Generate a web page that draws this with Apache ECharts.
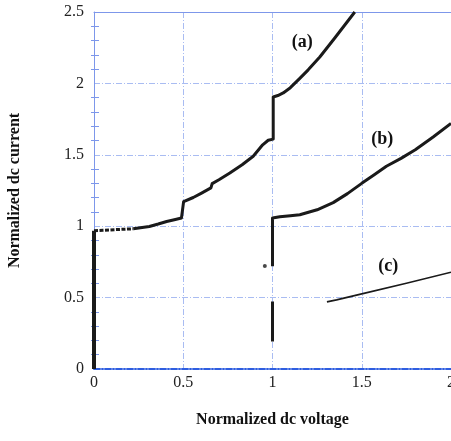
<!DOCTYPE html>
<html>
<head>
<meta charset="utf-8">
<script src="https://cdn.jsdelivr.net/npm/echarts@6/dist/echarts.min.js"></script>
<style>html,body{margin:0;padding:0;background:#fff}#c{width:451px;height:441px}</style>
</head>
<body>
<div id="c"></div>
<script>
// x tick values / y tick values
var xTicks = [0, 0.5, 1, 1.5, 2];
var yTicks = [0, 0.5, 1, 1.5, 2, 2.5];

// Curve (a)
var aRise = [[0, 0], [0, 0.968]];
var aDotted = [[0, 0.968], [0.05, 0.971], [0.12, 0.976], [0.22, 0.982]];
var aCurve = [[0.22, 0.982], [0.31, 0.998], [0.36, 1.015], [0.407, 1.033], [0.45, 1.045], [0.49, 1.057], [0.5, 1.06],
  [0.502, 1.172], [0.556, 1.201], [0.6, 1.23], [0.655, 1.268], [0.662, 1.298], [0.70, 1.325], [0.761, 1.372],
  [0.83, 1.43], [0.892, 1.49], [0.945, 1.57], [0.976, 1.602], [1.004, 1.61], [1.004, 1.905], [1.03, 1.915],
  [1.06, 1.933], [1.10, 1.97], [1.153, 2.035], [1.2, 2.095], [1.265, 2.185], [1.35, 2.32], [1.461, 2.5]];

// Curve (b)
var bDot = [[0.957, 0.722]];
var bLow = [[1.0, 0.192], [1.0, 0.473]];
var bCurve = [[1.0, 0.72], [1.0, 1.057], [1.041, 1.066], [1.1, 1.073], [1.153, 1.08], [1.25, 1.115], [1.34, 1.165],
  [1.42, 1.228], [1.5, 1.3], [1.57, 1.36], [1.638, 1.42], [1.72, 1.475], [1.8, 1.535], [1.9, 1.625], [2.0, 1.72]];

// Curve (c)
var cCurve = [[1.305, 0.47], [1.359, 0.484], [1.5, 0.526], [1.75, 0.60], [2.0, 0.678]];

// Annotations
var labelText = ['(a)', '(b)', '(c)'];
var labelAt = [[1.17, 2.286], [1.618, 1.606], [1.651, 0.715]];

var serif = 'Liberation Serif';
var gridBlue = '#a9bcf2';
var axisBlue = '#7d97ea';
var dashDot = [6, 2, 1, 2];

var chart = echarts.init(document.getElementById('c'), null, {renderer: 'canvas'});

function line(data, w, type) {
  return {type: 'line', data: data, symbol: 'none', smooth: false, animation: false,
    lineStyle: {color: '#1a1a1a', width: w, type: type || 'solid', cap: 'butt', join: 'round'}, z: 5};
}

chart.setOption({
  animation: false,
  grid: {left: 94, right: 0, top: 12, bottom: 72, containLabel: false, outerBoundsMode: 'none'},
  xAxis: [{
    type: 'value', min: xTicks[0], max: xTicks[xTicks.length - 1], interval: 0.5,
    name: 'Normalized dc voltage', nameLocation: 'middle', nameGap: 43,
    nameTextStyle: {fontFamily: serif, fontWeight: 'bold', fontSize: 16, color: '#111'},
    axisLine: {show: true, onZero: false, lineStyle: {color: '#2f5ee0', width: 2, type: dashDot}},
    axisTick: {show: false},
    axisLabel: {fontFamily: serif, fontSize: 16, color: '#222', margin: 6, hideOverlap: false,
      formatter: function (v) { return String(v); }},
    splitLine: {show: true, lineStyle: {color: gridBlue, width: 1, type: dashDot}}
  }, {
    type: 'value', position: 'top', min: 0, max: 2, interval: 0.5,
    axisLine: {show: true, onZero: false, lineStyle: {color: axisBlue, width: 1}},
    axisTick: {show: false}, axisLabel: {show: false}, splitLine: {show: false}
  }],
  yAxis: [{
    type: 'value', min: yTicks[0], max: yTicks[yTicks.length - 1], interval: 0.5,
    name: 'Normalized dc current', nameLocation: 'middle', nameGap: 71,
    nameTextStyle: {fontFamily: serif, fontWeight: 'bold', fontSize: 16, color: '#111'},
    axisLine: {show: true, onZero: false, lineStyle: {color: axisBlue, width: 1}},
    axisTick: {show: false, inside: true},
    minorTick: {show: true, splitNumber: 5, length: -3, lineStyle: {color: axisBlue}},
    axisLabel: {fontFamily: serif, fontSize: 16, color: '#222', margin: 10,
      formatter: function (v) { return String(v); }},
    splitLine: {show: true, lineStyle: {color: gridBlue, width: 1, type: dashDot}}
  }, {
    type: 'value', position: 'right', min: 0, max: 2.5, interval: 0.5,
    axisLine: {show: false},
    axisTick: {show: false, inside: true},
    minorTick: {show: true, splitNumber: 5, length: -5, lineStyle: {color: axisBlue}},
    axisLabel: {show: false}, splitLine: {show: false}
  }],
  series: [
    line(aRise, 4),
    line(aDotted, 3, [4, 1.5]),
    line(aCurve, 3),
    line(bLow, 3),
    line(bCurve, 3),
    {type: 'scatter', data: bDot, symbol: 'circle', symbolSize: 4, itemStyle: {color: '#1a1a1a'}, z: 5},
    line(cCurve, 1.6),
    {type: 'scatter', symbolSize: 1, z: 6, silent: true,
      itemStyle: {color: '#ffffff', opacity: 1},
      data: labelAt.map(function (p, i) { return {value: p, name: labelText[i]}; }),
      label: {show: true, position: [0, 0], align: 'center', verticalAlign: 'middle',
        formatter: function (p) { return p.name; },
        fontFamily: serif, fontWeight: 'bold', fontSize: 18, color: '#111', opacity: 1, textBorderWidth: 0}}
  ]
});
</script>
</body>
</html>
